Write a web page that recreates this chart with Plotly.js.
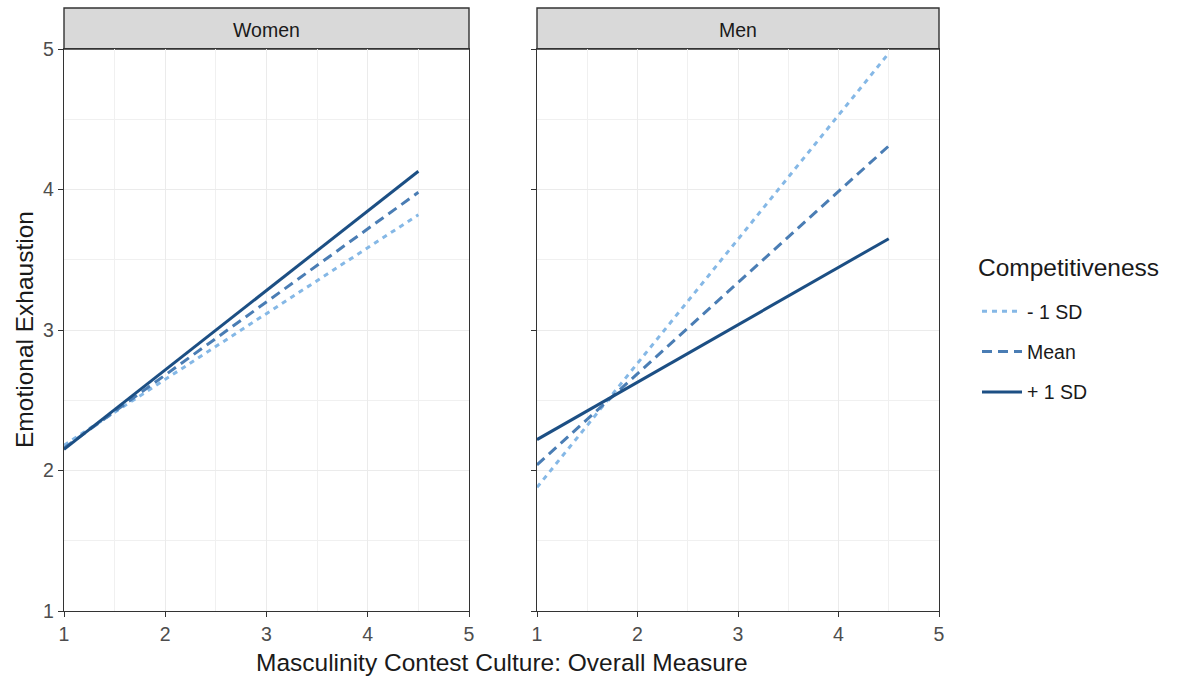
<!DOCTYPE html>
<html><head><meta charset="utf-8">
<script src="https://cdn.plot.ly/plotly-3.0.1.min.js"></script>
<style>body{margin:0;background:#fff}</style>
</head><body><div id="chart" style="width:1181px;height:681px"></div>
<script>
// Data
const xVals = [1, 4.5];
const seriesNames = ['- 1 SD', 'Mean', '+ 1 SD'];
const panelNames = ['Women', 'Men'];
const legendTitle = 'Competitiveness';
const womenLow = [2.18, 3.82];
const womenMean = [2.16, 3.98];
const womenHigh = [2.15, 4.13];
const menLow = [1.88, 4.97];
const menMean = [2.04, 4.31];
const menHigh = [2.22, 3.65];

const colors = ['#85B8E6', '#4A7DB4', '#1C4F84'];
const dashes = ['5px,5px', '10px,6px', 'solid'];

const W = 1181, H = 681;
const fx = p => p / W, fy = p => 1 - p / H;

const panels = [[womenLow, womenMean, womenHigh], [menLow, menMean, menHigh]];
const traces = [];
panels.forEach((pan, pi) => {
  pan.forEach((ys, si) => {
    traces.push({
      x: xVals, y: ys, type: 'scatter', mode: 'lines',
      name: seriesNames[si], legendgroup: seriesNames[si], showlegend: pi === 0,
      line: {color: colors[si], width: 3, dash: dashes[si]},
      xaxis: pi === 0 ? 'x' : 'x2', yaxis: pi === 0 ? 'y' : 'y2',
      hoverinfo: 'x+y+name'
    });
  });
});

const tickFont = {family: 'Liberation Sans, Arial, sans-serif', size: 19.5, color: '#4D4D4D'};
const axisCommon = {
  range: [1, 5], dtick: 1, tick0: 1, showgrid: true, gridcolor: '#EBEBEB', gridwidth: 1.3,
  minor: {dtick: 0.5, showgrid: true, gridcolor: '#F0F0F0', gridwidth: 1},
  zeroline: false, showline: true, mirror: true, linecolor: '#333333', linewidth: 1.4,
  ticks: 'outside', ticklen: 5, tickcolor: '#333333', tickfont: tickFont
};
const yTop = fy(49), yBot = fy(611);

const layout = {
  width: W, height: H,
  margin: {l: 0, r: 0, t: 0, b: 0},
  paper_bgcolor: '#fff', plot_bgcolor: '#fff',
  font: {family: 'Liberation Sans, Arial, sans-serif', color: '#1A1A1A'},
  xaxis: Object.assign({}, axisCommon, {domain: [fx(64), fx(469)], anchor: 'y'}),
  yaxis: Object.assign({}, axisCommon, {domain: [yBot, yTop], anchor: 'x'}),
  xaxis2: Object.assign({}, axisCommon, {domain: [fx(537), fx(939)], anchor: 'y2'}),
  yaxis2: Object.assign({}, axisCommon, {domain: [yBot, yTop], anchor: 'x2', showticklabels: false}),
  shapes: [
    {type: 'rect', xref: 'paper', yref: 'paper', x0: fx(64), x1: fx(469), y0: yTop, y1: fy(8),
     fillcolor: '#D9D9D9', line: {color: '#333333', width: 1.4}, layer: 'below'},
    {type: 'rect', xref: 'paper', yref: 'paper', x0: fx(537), x1: fx(939), y0: yTop, y1: fy(8),
     fillcolor: '#D9D9D9', line: {color: '#333333', width: 1.4}, layer: 'below'}
  ],
  annotations: [
    {text: panelNames[0], xref: 'paper', yref: 'paper', x: fx(266), y: fy(30), showarrow: false,
     font: {size: 19.5, color: '#1A1A1A'}, xanchor: 'center', yanchor: 'middle'},
    {text: panelNames[1], xref: 'paper', yref: 'paper', x: fx(738), y: fy(30), showarrow: false,
     font: {size: 19.5, color: '#1A1A1A'}, xanchor: 'center', yanchor: 'middle'},
    {text: 'Masculinity Contest Culture: Overall Measure', xref: 'paper', yref: 'paper',
     x: fx(502), y: fy(662), showarrow: false, font: {size: 24.5, color: '#1A1A1A'},
     xanchor: 'center', yanchor: 'middle'},
    {text: 'Emotional Exhaustion', xref: 'paper', yref: 'paper', textangle: -90,
     x: fx(24), y: fy(330), showarrow: false, font: {size: 24.5, color: '#1A1A1A'},
     xanchor: 'center', yanchor: 'middle'},
    {text: legendTitle, xref: 'paper', yref: 'paper',
     x: fx(976), y: fy(268), showarrow: false, font: {size: 24.5, color: '#1A1A1A'},
     xanchor: 'left', yanchor: 'middle'}
  ],
  legend: {
    x: fx(977), y: fy(292), xanchor: 'left', yanchor: 'top',
    font: {size: 19.5, color: '#1A1A1A'}, tracegroupgap: 12, itemwidth: 40,
    bgcolor: 'rgba(0,0,0,0)'
  },
  showlegend: true
};

Plotly.newPlot('chart', traces, layout, {displayModeBar: false, responsive: false});
</script></body></html>
